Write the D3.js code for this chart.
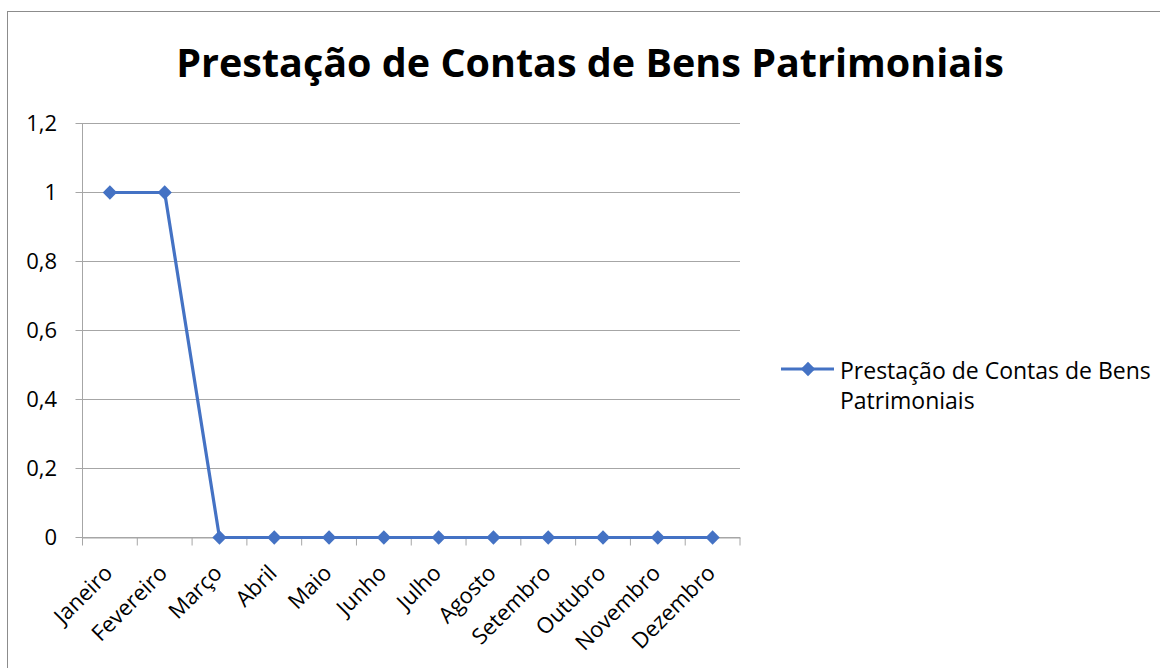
<!DOCTYPE html>
<html><head><meta charset="utf-8">
<script src="https://cdn.jsdelivr.net/npm/d3@7"></script>
<style>body{margin:0;background:#fff}svg{display:block}</style>
</head><body>
<script>
const categories = ["Janeiro","Fevereiro","Março","Abril","Maio","Junho","Julho","Agosto","Setembro","Outubro","Novembro","Dezembro"];
const values = [1,1,0,0,0,0,0,0,0,0,0,0];
const yTicks = [0,0.2,0.4,0.6,0.8,1,1.2];
const yTickLabels = ["0","0,2","0,4","0,6","0,8","1","1,2"];
const title = "Prestação de Contas de Bens Patrimoniais";
const seriesName = ["Prestação de Contas de Bens","Patrimoniais"];

(function () {
const W = 1160, H = 668;
const font = "'Open Sans', Lato, sans-serif";
const fs = 22;
const svg = d3.select("body").append("svg").attr("width", W).attr("height", H);
svg.append("rect").attr("x", 7.5).attr("y", 11.5).attr("width", W + 10).attr("height", H + 10)
  .attr("fill", "#fff").attr("stroke", "#8c8c8c").attr("stroke-width", 1);

const pLeft = 82.5, pRight = 740, pTop = 123.5, pBottom = 537.5;
const x = d3.scaleBand().domain(categories).range([pLeft, pRight]);
const y = d3.scaleLinear().domain([0, 1.2]).range([pBottom, pTop]);
const grid = "#a6a6a6";

svg.append("text").attr("x", 590).attr("y", 77).attr("text-anchor", "middle")
  .attr("font-family", font).attr("font-weight", "bold").attr("font-size", 39.5).attr("fill", "#000")
  .text(title);

svg.append("g").selectAll("line").data(yTicks).join("line")
  .attr("x1", pLeft - 7).attr("x2", pRight).attr("y1", d => y(d)).attr("y2", d => y(d))
  .attr("stroke", grid).attr("stroke-width", 1);
svg.append("line").attr("x1", pLeft).attr("x2", pLeft).attr("y1", pTop).attr("y2", pBottom)
  .attr("stroke", grid);
svg.append("g").selectAll("text").data(yTicks).join("text")
  .attr("x", 57).attr("y", d => y(d)).attr("dy", "0.35em").attr("text-anchor", "end")
  .attr("font-family", font).attr("font-size", fs).attr("fill", "#000")
  .text((d, i) => yTickLabels[i]);

const xAxis = svg.append("g").attr("transform", `translate(0,${pBottom})`)
  .call(d3.axisBottom(x).tickSize(0).tickFormat(""));
xAxis.select(".domain").attr("stroke", grid);
const bounds = categories.map(c => x(c)).concat([pRight]);
svg.append("g").selectAll("line").data(bounds).join("line")
  .attr("x1", d => d).attr("x2", d => d).attr("y1", pBottom).attr("y2", pBottom + 8)
  .attr("stroke", grid);
svg.append("g").selectAll("text").data(categories).join("text")
  .attr("transform", d => `translate(${x(d) + x.bandwidth() / 2 + 4},${pBottom + 37}) rotate(-45)`)
  .attr("text-anchor", "end")
  .attr("font-family", font).attr("font-size", fs).attr("fill", "#000")
  .text(d => d);

const color = "#4472c4";
const line = d3.line().x((d, i) => x(categories[i]) + x.bandwidth() / 2).y(d => y(d));
svg.append("path").datum(values).attr("d", line).attr("fill", "none")
  .attr("stroke", color).attr("stroke-width", 3.2).attr("stroke-linejoin", "round");
const diamond = d3.symbol().type(d3.symbolDiamond2).size(130);
svg.append("g").selectAll("path").data(values).join("path")
  .attr("transform", (d, i) => `translate(${x(categories[i]) + x.bandwidth() / 2},${y(d)})`)
  .attr("d", diamond).attr("fill", color);

svg.append("line").attr("x1", 781).attr("x2", 834).attr("y1", 369).attr("y2", 369)
  .attr("stroke", color).attr("stroke-width", 3.2);
svg.append("path").attr("transform", "translate(808,369)").attr("d", diamond).attr("fill", color);
svg.append("g").selectAll("text").data(seriesName).join("text")
  .attr("x", 840).attr("y", (d, i) => 379 + i * 30)
  .attr("font-family", font).attr("font-size", 23).attr("fill", "#000")
  .text(d => d);
})();
</script>
</body></html>
